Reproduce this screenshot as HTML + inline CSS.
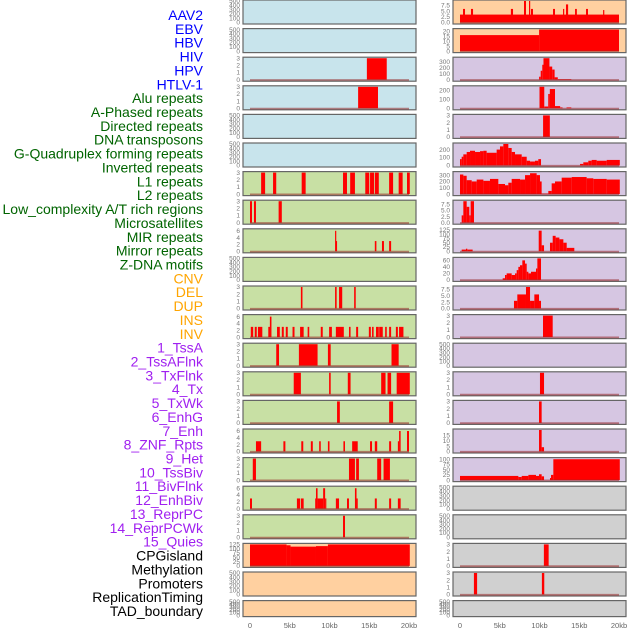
<!DOCTYPE html>
<html><head><meta charset="utf-8"><style>
body{margin:0;background:#fff;width:630px;height:630px;overflow:hidden;font-family:"Liberation Sans",sans-serif}
svg{position:absolute;left:0;top:0}
</style></head><body>
<svg id="c" width="630" height="630"></svg>
<script>
const labelNames=["AAV2","EBV","HBV","HIV","HPV","HTLV-1","Alu repeats","A-Phased repeats","Directed repeats","DNA transposons","G-Quadruplex forming repeats","Inverted repeats","L1 repeats","L2 repeats","Low_complexity A/T rich regions","Microsatellites","MIR repeats","Mirror repeats","Z-DNA motifs","CNV","DEL","DUP","INS","INV","1_TssA","2_TssAFlnk","3_TxFlnk","4_Tx","5_TxWk","6_EnhG","7_Enh","8_ZNF_Rpts","9_Het","10_TssBiv","11_BivFlnk","12_EnhBiv","13_ReprPC","14_ReprPCWk","15_Quies","CPGisland","Methylation","Promoters","ReplicationTiming","TAD_boundary"];
const labelGroups=[6,13,5,15,5];
const groupColors=["#0000ff","#006400","#ffa500","#a020f0","#000000"];
const xTicks=[0,5,10,15,20];
const xTickLabels=["0","5kb","10kb","15kb","20kb"];
const T3=[0,1,2,3], T6=[0,2,4,6], TE=[0,100,200,300,400,500], T125=[0,25,50,75,100,125], T75=[0,2.5,5,7.5];
const leftBg=["#c8e4ec","#c8e4ec","#c8e4ec","#c8e4ec","#c8e4ec","#c8e4ec","#c8e0a4","#c8e0a4","#c8e0a4","#c8e0a4","#c8e0a4","#c8e0a4","#c8e0a4","#c8e0a4","#c8e0a4","#c8e0a4","#c8e0a4","#c8e0a4","#c8e0a4","#ffd0a0","#ffd0a0","#ffd0a0"];
const rightBg=["#ffd0a0","#ffd0a0","#d6c6e2","#d6c6e2","#d6c6e2","#d6c6e2","#d6c6e2","#d6c6e2","#d6c6e2","#d6c6e2","#d6c6e2","#d6c6e2","#d6c6e2","#d6c6e2","#d6c6e2","#d6c6e2","#d6c6e2","#d0d0d0","#d0d0d0","#d0d0d0","#d0d0d0","#d0d0d0"];
const leftMax=[500,500,3,3,500,500,3,3,6.3,500,3,6.3,3,3,3,6.3,3,6.3,3,125,500,500];
const leftTicks=[TE,TE,T3,T3,TE,TE,T3,T3,T6,TE,T3,T6,T3,T3,T3,T6,T3,T6,T3,T125,TE,TE];
const rightMax=[9.5,21.5,360,240,3,270,340,8.8,125,66,8.4,3,500,3,3,20,103,500,500,3,3,500];
const rightTicks=[T75,[0,5,10,15,20],[0,100,200,300],[0,100,200],T3,[0,100,200],[0,100,200,300],T75,T125,[0,20,40,60],T75,T3,TE,T3,T3,[0,5,10,15],[0,25,50,75,100],TE,TE,T3,T3,TE];
const leftSeries=[[],[],
[[14.7,17.2,3]],
[[13.6,16.1,3]],
[],[],
[[1.4,1.9,3],[2.9,3.3,3],[6.5,7.0,3],[11.7,12.2,3],[12.6,13.2,3],[14.5,15.0,3],[15.1,15.6,3],[15.7,16.2,3],[17.5,18.0,3],[18.7,19.2,3],[19.75,20.1,3]],
[[0,0.25,3],[0.5,0.75,3],[3.6,4.0,3]],
[[10.7,10.8,6],[10.8,10.95,3],[15.7,15.9,3],[16.6,16.85,3],[17.5,17.75,3]],
[],
[[6.4,6.6,3],[10.7,10.9,3],[11.2,11.6,3],[13.1,13.3,3]],
[[0.1,0.4,3],[0.6,0.85,3],[1.0,1.55,3],[2.3,2.6,3],[2.5,2.7,6],[3.4,3.75,3],[4.0,4.25,3],[4.5,4.75,3],[5.35,5.6,3],[6.3,6.75,3],[7.25,7.45,3],[8.9,9.15,3],[9.95,10.3,3],[10.8,11.8,3],[12.45,12.65,3],[13.35,13.6,3],[14.95,15.2,3],[15.35,15.55,3],[15.85,16.2,3],[16.25,16.7,3],[17.0,17.2,3],[17.5,17.75,3],[18.35,18.6,3],[18.75,19.3,3]],
[[3.3,3.65,3],[6.15,8.5,3],[9.8,10.15,3],[17.8,18.7,3]],
[[5.5,6.4,3],[9.95,10.15,3],[12.3,12.65,3],[16.5,17.05,3],[17.3,17.75,3],[18.45,20.1,3]],
[[10.95,11.3,3],[17.5,18.0,3]],
[[0.75,1.4,3],[4.2,4.45,3],[6.45,6.7,3],[7.65,7.9,3],[8.7,8.9,3],[9.8,10.0,3],[11.75,11.95,3],[12.85,13.55,3],[15.1,15.35,3],[15.7,16.0,3],[17.5,17.75,3],[18.6,18.75,3],[18.75,18.95,6],[19.75,20.0,6]],
[[0.35,0.75,3],[12.45,13.2,3],[13.35,13.7,3],[16.0,16.5,3],[16.8,17.6,3]],
[[0,0.25,3],[5.9,6.3,3],[6.4,6.75,3],[8.2,8.3,3],[8.3,8.5,6],[8.5,9.2,3],[9.2,9.45,6],[9.45,9.5,3],[10.8,11.2,3],[12.2,12.45,3],[13.2,13.4,6],[13.4,13.55,3],[15.7,15.95,3],[17.5,17.75,3],[18.6,18.95,3]],
[[11.7,11.95,3]],
[[0,4.6,125],[4.6,5.1,120],[5.1,8.3,112],[8.3,9.8,115],[9.8,20.1,125]],
[],[]];
const rightSeries=[
[[0,20,3.5],[0.38,0.63,6],[1.38,1.64,6],[6.4,6.67,6],[8.05,8.3,9.5],[8.68,8.8,9.5],[8.93,9.18,6],[11.7,11.95,6],[12.96,13.1,6],[13.33,13.6,8],[14.47,14.7,6],[15.85,16.1,6],[18.0,18.1,5.5]],
[[0,9.95,16],[9.95,20,21.5]],
[[9.95,10.15,50],[10.15,10.35,150],[10.35,10.5,250],[10.5,11.25,360],[11.25,11.6,220],[11.6,11.9,170],[11.9,12.3,40],[12.3,14.0,10]],
[[10.0,10.6,240],[10.6,11.1,20],[11.1,11.3,160],[11.3,11.95,215],[11.95,12.6,25],[12.6,12.9,10],[13.4,14.0,10]],
[[10.45,11.3,3]],
[[0,0.21,80],[0.21,0.42,110],[0.42,0.84,140],[0.84,1.26,170],[1.26,1.89,185],[1.89,2.52,170],[2.52,2.94,180],[2.94,3.35,185],[3.35,4.61,160],[4.61,5.03,200],[5.03,5.45,240],[5.45,6.08,270],[6.08,6.5,220],[6.5,6.92,170],[6.92,7.76,140],[7.76,8.39,110],[8.39,8.81,60],[8.81,9.43,50],[9.43,9.85,60],[9.85,10.19,80],[15.1,15.51,20],[15.51,16.14,40],[16.14,16.56,60],[16.56,17.19,70],[17.19,18.45,60],[18.45,20.1,70]],
[[0,0.42,310],[0.42,0.84,290],[0.84,1.47,220],[1.47,2.1,200],[2.1,2.94,230],[2.94,3.77,210],[3.77,4.82,240],[4.82,5.66,160],[5.66,6.08,140],[6.08,6.5,180],[6.5,7.55,240],[7.55,8.18,230],[8.18,8.81,300],[8.81,9.64,330],[9.64,10.06,300],[10.06,10.27,200],[10.27,11.11,10],[11.11,11.53,50],[11.53,11.95,170],[11.95,12.79,200],[12.79,14.05,260],[14.05,15.93,270],[15.93,16.77,250],[16.77,18.45,240],[18.45,20.1,230]],
[[0.21,0.42,3],[0.42,0.84,8.8],[0.84,1.17,6.5],[1.17,1.34,3],[1.34,1.76,8.8]],
[[0.21,0.75,10],[0.75,0.92,15],[0.92,1.59,10],[9.9,10.27,120],[10.27,10.57,35],[11.32,11.66,50],[11.66,12.03,90],[12.03,12.5,80],[12.5,13.0,70],[13.0,13.42,50],[13.42,14.38,20]],
[[5.37,5.66,5],[5.66,5.87,15],[5.87,6.5,20],[6.5,6.92,15],[6.92,7.13,20],[7.13,7.34,30],[7.34,7.55,40],[7.55,7.84,45],[7.84,8.18,60],[8.18,8.39,50],[8.39,8.6,25],[8.6,8.93,20],[8.93,9.56,25],[9.56,9.73,35],[9.73,10.19,66]],
[[6.79,7.21,3],[7.21,8.3,5.5],[8.3,8.81,8.4],[8.81,9.35,3],[9.35,9.94,5.5],[9.94,10.19,3]],
[[10.44,11.66,3]],
[],
[[10.06,10.57,3]],
[[9.94,10.27,3]],
[[9.94,10.27,20],[10.27,10.57,4]],
[[0,7.34,20],[7.34,7.76,15],[7.76,8.6,20],[8.6,9.56,25],[9.56,9.94,20],[9.94,10.27,28],[10.27,10.57,18],[11.32,11.45,10],[11.45,11.74,25],[11.74,20.1,100]],
[],[],
[[10.55,11.15,3]],
[[1.75,2.15,3],[10.3,10.6,3]],
[]];

const NS="http://www.w3.org/2000/svg";
const svg=document.getElementById('c');
function mk(tag,attrs,parent){const e=document.createElementNS(NS,tag);for(const k in attrs)e.setAttribute(k,attrs[k]);(parent||svg).appendChild(e);return e;}

let li=0;
labelGroups.forEach((n,g)=>{for(let k=0;k<n;k++){const t=mk('text',{x:203,y:15+li*13.86+5,'text-anchor':'end','font-size':14,fill:groupColors[g]});


t.textContent=labelNames[li];li++;}});

function xScale(x0,kb){return x0+7+kb*7.95;}
function panel(side,i,x0,bg,ymax,ticks,series){
  const top=i*28.6, h=(i===21)?16:24, bot=top+h;
  const yS=v=>(bot-1.5)-(v/ymax)*(h-2.5);
  const g=mk('g',{});
  
  
  mk('rect',{x:x0,y:top,width:173,height:h,fill:bg,stroke:'#666','stroke-width':1.2},g);
  series.forEach((s,j)=>{const x1=xScale(x0,s[0]),x2=xScale(x0,s[1]);
    const r=mk('rect',{x:x1,y:yS(s[2]),width:Math.max(x2-x1,1.2),height:yS(0)-yS(s[2]),fill:'#ff0000'},g);
    
    });
  if(series.length){mk('line',{x1:xScale(x0,0),x2:xScale(x0,20),y1:bot-1.2,y2:bot-1.2,stroke:'rgba(150,40,40,0.55)','stroke-width':1.8},g);}
  ticks.forEach(v=>{const t=mk('text',{x:x0-3,y:yS(v)+2.2,'text-anchor':'end','font-size':6.5,fill:'#777'},g);
    
    
    t.textContent=(ticks===T75)?v.toFixed(1):String(v);});
}
for(let i=0;i<22;i++){panel('left',i,243,leftBg[i],leftMax[i],leftTicks[i],leftSeries[i]);panel('right',i,453,rightBg[i],rightMax[i],rightTicks[i],rightSeries[i]);}
[243,453].forEach((x0,s)=>{xTicks.forEach((v,k)=>{const t=mk('text',{x:xScale(x0,v),y:628,'text-anchor':'middle','font-size':7.5,fill:'#666'});
  
  
  t.textContent=xTickLabels[k];});});
</script>
</body></html>
